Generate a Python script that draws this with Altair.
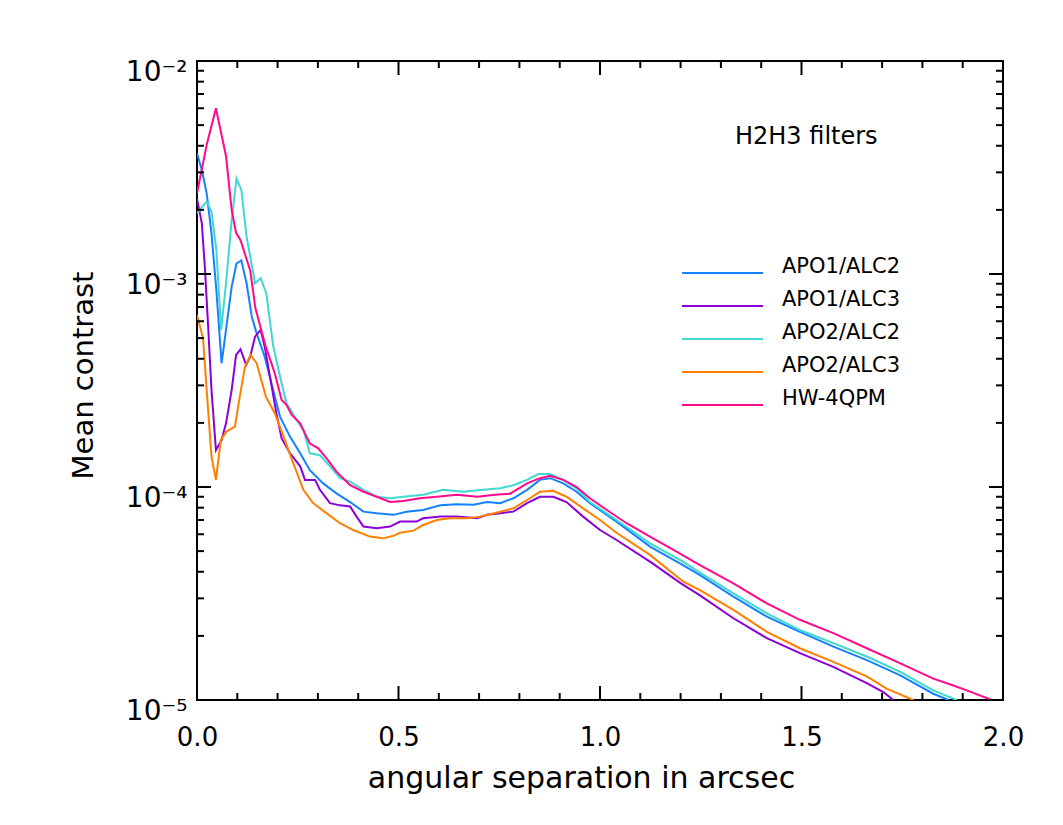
import altair as alt
import pandas as pd

series_names = ["APO1/ALC2", "APO1/ALC3", "APO2/ALC2", "APO2/ALC3", "HW-4QPM"]
series_colors = ["#1482FF", "#8C00D7", "#40D8D0", "#FF8000", "#FF0A8C"]

apo1_alc2_x = [0.000, 0.012, 0.024, 0.036, 0.048, 0.061, 0.072, 0.086, 0.098, 0.110,
               0.123, 0.136, 0.148, 0.168, 0.189, 0.206, 0.231, 0.256, 0.280, 0.313,
               0.346, 0.380, 0.413, 0.446, 0.487, 0.520, 0.561, 0.604, 0.645, 0.686,
               0.720, 0.752, 0.785, 0.819, 0.851, 0.876, 0.909, 0.942, 0.975, 1.041,
               1.124, 1.206, 1.248, 1.331, 1.414, 1.496, 1.579, 1.662, 1.744, 1.827, 1.865]
apo1_alc2_y = [3.69e-3, 3.08e-3, 2.39e-3, 1.55e-3, 8.4e-4, 3.81e-4, 5.46e-4, 8.7e-4, 1.12e-3, 1.16e-3,
               9.05e-4, 6.3e-4, 5.26e-4, 4.09e-4, 2.85e-4, 2.14e-4, 1.72e-4, 1.44e-4, 1.20e-4, 1.04e-4,
               9.33e-5, 8.5e-5, 7.66e-5, 7.52e-5, 7.4e-5, 7.66e-5, 7.8e-5, 8.2e-5, 8.3e-5, 8.25e-5,
               8.5e-5, 8.4e-5, 8.85e-5, 9.7e-5, 1.08e-4, 1.10e-4, 1.04e-4, 9.5e-5, 8.4e-5, 6.88e-5,
               5.25e-5, 4.3e-5, 3.86e-5, 3.06e-5, 2.46e-5, 2.09e-5, 1.78e-5, 1.54e-5, 1.31e-5, 1.07e-5, 1.0e-5]

apo1_alc3_x = [0.000, 0.012, 0.020, 0.028, 0.036, 0.047, 0.061, 0.072, 0.086, 0.097,
               0.108, 0.122, 0.132, 0.144, 0.158, 0.168, 0.181, 0.197, 0.210, 0.231,
               0.256, 0.268, 0.293, 0.305, 0.330, 0.355, 0.380, 0.396, 0.413, 0.446,
               0.479, 0.504, 0.545, 0.561, 0.604, 0.645, 0.695, 0.720, 0.752, 0.785,
               0.819, 0.851, 0.884, 0.917, 0.958, 1.000, 1.041, 1.124, 1.199, 1.248,
               1.331, 1.414, 1.496, 1.579, 1.662, 1.703, 1.728]
apo1_alc3_y = [2.26e-3, 1.73e-3, 1.04e-3, 5.5e-4, 2.85e-4, 1.49e-4, 1.66e-4, 1.99e-4, 2.85e-4, 4.17e-4,
               4.43e-4, 3.74e-4, 4.09e-4, 5.08e-4, 5.46e-4, 4.56e-4, 3.3e-4, 2.22e-4, 1.69e-4, 1.44e-4,
               1.25e-4, 1.08e-4, 1.08e-4, 9.7e-5, 8.4e-5, 8.2e-5, 8.1e-5, 7.26e-5, 6.52e-5, 6.4e-5,
               6.52e-5, 6.88e-5, 6.88e-5, 7.13e-5, 7.26e-5, 7.26e-5, 7.13e-5, 7.4e-5, 7.52e-5, 7.66e-5,
               8.4e-5, 9.0e-5, 9.0e-5, 8.5e-5, 7.26e-5, 6.28e-5, 5.64e-5, 4.46e-5, 3.55e-5, 3.1e-5,
               2.42e-5, 1.95e-5, 1.66e-5, 1.43e-5, 1.20e-5, 1.09e-5, 1.0e-5]

apo2_alc2_x = [0.000, 0.024, 0.036, 0.048, 0.060, 0.072, 0.086, 0.098, 0.110, 0.123,
               0.144, 0.158, 0.172, 0.189, 0.206, 0.222, 0.247, 0.264, 0.280, 0.305,
               0.330, 0.355, 0.380, 0.413, 0.446, 0.479, 0.512, 0.561, 0.611, 0.661,
               0.710, 0.752, 0.785, 0.819, 0.847, 0.876, 0.909, 0.942, 0.975, 1.041,
               1.124, 1.206, 1.248, 1.331, 1.414, 1.496, 1.579, 1.662, 1.744, 1.827, 1.885]
apo2_alc2_y = [1.93e-3, 2.19e-3, 1.96e-3, 1.30e-3, 5.46e-4, 9.05e-4, 1.79e-3, 2.81e-3, 2.48e-3, 1.50e-3,
               9.05e-4, 9.55e-4, 8.1e-4, 4.6e-4, 3.3e-4, 2.47e-4, 2.07e-4, 1.85e-4, 1.44e-4, 1.41e-4,
               1.25e-4, 1.10e-4, 1.06e-4, 9.7e-5, 9.0e-5, 8.85e-5, 9.0e-5, 9.2e-5, 9.7e-5, 9.5e-5,
               9.7e-5, 9.86e-5, 1.02e-4, 1.08e-4, 1.15e-4, 1.15e-4, 1.08e-4, 9.86e-5, 8.5e-5, 7.0e-5,
               5.44e-5, 4.46e-5, 3.96e-5, 3.17e-5, 2.55e-5, 2.13e-5, 1.85e-5, 1.60e-5, 1.36e-5, 1.11e-5, 1.0e-5]

apo2_alc3_x = [0.000, 0.015, 0.024, 0.036, 0.047, 0.059, 0.073, 0.094, 0.106, 0.119,
               0.133, 0.148, 0.171, 0.193, 0.218, 0.239, 0.264, 0.288, 0.322, 0.355,
               0.388, 0.429, 0.462, 0.487, 0.504, 0.537, 0.561, 0.595, 0.628, 0.670,
               0.702, 0.752, 0.785, 0.819, 0.851, 0.884, 0.917, 0.958, 1.000, 1.041,
               1.124, 1.206, 1.248, 1.331, 1.414, 1.496, 1.579, 1.662, 1.711, 1.777]
apo2_alc3_y = [6.42e-4, 4.99e-4, 2.85e-4, 1.39e-4, 1.08e-4, 1.66e-4, 1.82e-4, 1.92e-4, 2.65e-4, 3.67e-4,
               4.17e-4, 3.81e-4, 2.65e-4, 2.22e-4, 1.66e-4, 1.29e-4, 9.7e-5, 8.4e-5, 7.52e-5, 6.76e-5,
               6.28e-5, 5.85e-5, 5.74e-5, 5.9e-5, 6.1e-5, 6.24e-5, 6.63e-5, 7.0e-5, 7.13e-5, 7.13e-5,
               7.26e-5, 7.66e-5, 7.94e-5, 8.69e-5, 9.5e-5, 9.6e-5, 9.0e-5, 7.94e-5, 7.0e-5, 6.1e-5,
               4.8e-5, 3.6e-5, 3.28e-5, 2.65e-5, 2.09e-5, 1.75e-5, 1.51e-5, 1.29e-5, 1.13e-5, 1.0e-5]

hw_4qpm_x = [0.000, 0.024, 0.047, 0.072, 0.086, 0.097, 0.108, 0.132, 0.145, 0.170,
             0.193, 0.210, 0.222, 0.235, 0.256, 0.280, 0.301, 0.322, 0.346, 0.380,
             0.413, 0.446, 0.479, 0.512, 0.553, 0.595, 0.645, 0.695, 0.740, 0.777,
             0.819, 0.851, 0.876, 0.909, 0.942, 0.975, 1.017, 1.066, 1.124, 1.190,
             1.248, 1.331, 1.414, 1.496, 1.579, 1.662, 1.744, 1.827, 1.877, 1.910, 1.972]
hw_4qpm_y = [2.39e-3, 4.03e-3, 6.0e-3, 3.58e-3, 2.0e-3, 1.56e-3, 1.44e-3, 1.04e-3, 6.9e-4, 4.6e-4,
             3.42e-4, 2.56e-4, 2.43e-4, 2.18e-4, 1.99e-4, 1.60e-4, 1.52e-4, 1.36e-4, 1.18e-4, 1.02e-4,
             9.5e-5, 9.0e-5, 8.5e-5, 8.6e-5, 8.85e-5, 9.0e-5, 9.2e-5, 9.0e-5, 9.2e-5, 9.3e-5,
             1.04e-4, 1.10e-4, 1.13e-4, 1.08e-4, 1.0e-4, 8.85e-5, 7.8e-5, 6.76e-5, 5.85e-5, 4.97e-5,
             4.3e-5, 3.53e-5, 2.84e-5, 2.38e-5, 2.06e-5, 1.75e-5, 1.49e-5, 1.26e-5, 1.17e-5, 1.11e-5, 1.0e-5]

x_major = [0.0, 0.5, 1.0, 1.5, 2.0]
x_minor = [0.1, 0.2, 0.3, 0.4, 0.6, 0.7, 0.8, 0.9, 1.1, 1.2, 1.3, 1.4, 1.6, 1.7, 1.8, 1.9]
y_major = [1e-5, 1e-4, 1e-3, 1e-2]
y_minor = [m * 10.0 ** k for k in (-5, -4, -3) for m in range(2, 10)]

annotation_text = "H2H3  filters"
annotation_x = 1.335
annotation_y = 4.07e-3

x_title = "angular separation in arcsec"
y_title = "Mean contrast"

# ---- build table ----
series_data = [
    ("APO1/ALC2", apo1_alc2_x, apo1_alc2_y),
    ("APO1/ALC3", apo1_alc3_x, apo1_alc3_y),
    ("APO2/ALC2", apo2_alc2_x, apo2_alc2_y),
    ("APO2/ALC3", apo2_alc3_x, apo2_alc3_y),
    ("HW-4QPM", hw_4qpm_x, hw_4qpm_y),
]
rows = []
for name, xs, ys in series_data:
    for i, (xv, yv) in enumerate(zip(xs, ys)):
        rows.append({"series": name, "sep": xv, "contrast": yv, "idx": i})
df = pd.DataFrame(rows)

W, H = 806, 639
FONT = "DejaVu Sans"
MAJ, MIN = 14, 7

xscale = alt.Scale(domain=[0, 2], nice=False, zero=False)
yscale = alt.Scale(type="log", domain=[1e-5, 1e-2], nice=False)
cscale = alt.Scale(domain=series_names, range=series_colors)

label_expr = ("datum.value > 0.005 ? '10\u207b\u00b2' : datum.value > 0.0005 ? '10\u207b\u00b3' : "
              "datum.value > 0.00005 ? '10\u207b\u2074' : '10\u207b\u2075'")

x_axis = alt.Axis(values=x_major, format=".1f", ticks=False, domain=False, grid=False,
                  labelFontSize=26, labelFont=FONT, labelPadding=24, labelColor="black",
                  labelFlush=False, labelOverlap=False,
                  title=x_title, titleFontSize=30, titleFont=FONT, titleFontWeight="normal",
                  titleColor="black", titleX=384, titleY=87, titleBaseline="alphabetic",
                  titleAlign="center", orient="bottom")
y_axis = alt.Axis(values=y_major, labelExpr=label_expr, ticks=False, domain=False, grid=False,
                  labelFontSize=28, labelFont=FONT, labelPadding=10, labelColor="black",
                  labelOffset=11, labelFlush=False, labelOverlap=False, labelBaseline="middle",
                  title=y_title, titleFontSize=29, titleFont=FONT, titleFontWeight="normal",
                  titleColor="black", titleX=-105, titleY=314, titleBaseline="alphabetic",
                  titleAlign="center", titleAngle=270, orient="left")

legend = alt.Legend(title=None, orient="none", legendX=484, legendY=196,
                    symbolType="stroke", symbolSize=6561, symbolStrokeWidth=2,
                    clipHeight=32, rowPadding=0, padding=0, offset=0,
                    labelOffset=18, labelFontSize=21, labelFont=FONT, labelColor="black",
                    labelBaseline="alphabetic", labelLimit=0)

lines = alt.Chart(df).mark_line(strokeWidth=2, clip=True).encode(
    x=alt.X("sep:Q", scale=xscale, axis=x_axis),
    y=alt.Y("contrast:Q", scale=yscale, axis=y_axis),
    color=alt.Color("series:N", scale=cscale, legend=legend),
    order=alt.Order("idx:Q"),
)


def xtick_layers(vals, length):
    d = pd.DataFrame({"v": vals})
    base = alt.Chart(d).mark_rule(color="black", strokeWidth=2)
    xenc = alt.X("v:Q", scale=xscale, axis=x_axis)
    bottom = base.encode(x=xenc, y=alt.value(H), y2=alt.value(H - length))
    top = base.encode(x=xenc, y=alt.value(0), y2=alt.value(length))
    return [bottom, top]


def ytick_layers(vals, length):
    d = pd.DataFrame({"v": vals})
    base = alt.Chart(d).mark_rule(color="black", strokeWidth=2)
    yenc = alt.Y("v:Q", scale=yscale, axis=y_axis)
    left = base.encode(y=yenc, x=alt.value(0), x2=alt.value(length))
    right = base.encode(y=yenc, x=alt.value(W), x2=alt.value(W - length))
    return [left, right]


ticks = (xtick_layers(x_major, MAJ) + xtick_layers(x_minor, MIN)
         + ytick_layers(y_major, MAJ) + ytick_layers(y_minor, MIN))

annot = alt.Chart(pd.DataFrame({"t": [annotation_text]})).mark_text(
    align="left", baseline="alphabetic", fontSize=24, font=FONT, color="black"
).encode(
    x=alt.X(datum=annotation_x, scale=xscale, axis=x_axis),
    y=alt.Y(datum=annotation_y, scale=yscale, axis=y_axis),
    text="t:N",
)

chart = alt.layer(lines, *ticks, annot).properties(
    width=W, height=H,
    padding={"left": 197, "top": 61, "right": 60, "bottom": 125},
    autosize=alt.AutoSizeParams(type="none"),
    background="white",
).configure_view(stroke="black", strokeWidth=2)

chart.save("out.html", embed_options={"renderer": "svg", "actions": False})
